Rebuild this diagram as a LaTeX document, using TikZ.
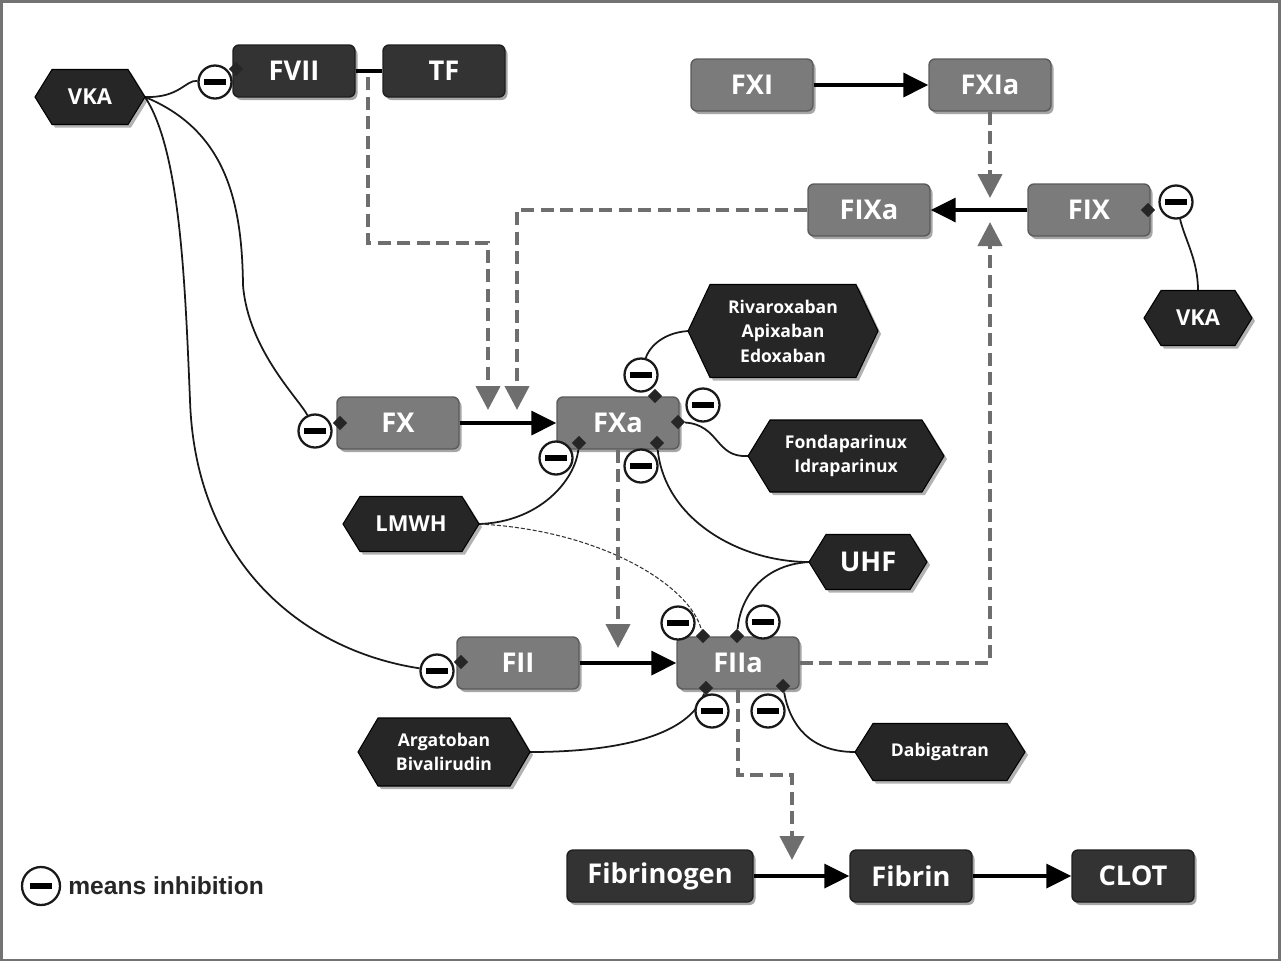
\documentclass[tikz,border=0pt]{standalone}
\usepackage{fontspec}
\newfontfamily\labfont{Open Sans}
\newfontfamily\legfont{Liberation Sans}
\usetikzlibrary{arrows.meta,shapes.geometric,shadows,backgrounds,calc}
\definecolor{boxgray}{HTML}{7B7B7B}
\definecolor{boxedge}{HTML}{5A5A5A}
\definecolor{darkbox}{HTML}{333333}
\definecolor{darkedge}{HTML}{1E1E1E}
\definecolor{hexcol}{HTML}{262626}
\definecolor{dashgray}{HTML}{6E6E6E}
\tikzset{
  box/.style={rectangle, rounded corners=1.2mm, minimum width=24.4mm, minimum height=10.4mm,
    inner sep=0, font=\labfont\bfseries\fontsize{15.5}{18}\selectfont, text=white, line width=0.8pt,
    drop shadow={shadow xshift=0.5mm, shadow yshift=-0.6mm, opacity=0.35, fill=black}},
  gbox/.style={box, fill=boxgray, draw=boxedge},
  dbox/.style={box, fill=darkbox, draw=darkedge},
  hexfill/.style={fill=hexcol, draw=black, line width=0.6pt},
  hexshadow/.style={fill=black, opacity=0.3},
  hextext/.style={rectangle, inner sep=0, outer sep=0, text=white, align=center},
  dia/.style={diamond, fill=black!85, inner sep=0, minimum size=2.9mm},
  inh/.style={circle, draw=black!90, line width=1.3pt, fill=white, minimum size=6.6mm, inner sep=0},
  inhline/.style={line width=1pt, black!90},
  inhdash/.style={line width=0.6pt, black!80, dash pattern=on 0.8mm off 0.4mm},
  sarrow/.style={line width=2pt, black, -{Triangle[length=5mm,width=4.8mm]}},
  darrow/.style={line width=2.4pt, dashgray, dash pattern=on 2.6mm off 1.3mm, -{Triangle[length=4.8mm,width=4.8mm]}},
  big/.style={font=\labfont\bfseries\fontsize{12.5}{15}\selectfont},
  small/.style={font=\labfont\bfseries\fontsize{10}{14}\selectfont},
  huge/.style={font=\labfont\bfseries\fontsize{15.5}{18}\selectfont}
}
\newcommand{\hexag}[8]{%
  \fill[hexshadow] ({#2-#4/2+3},{#3+3}) -- ({#2-#4/2+#6+3},{#3-#5/2+3}) -- ({#2+#4/2-#6+3},{#3-#5/2+3}) -- ({#2+#4/2+3},{#3+3}) -- ({#2+#4/2-#6+3},{#3+#5/2+3}) -- ({#2-#4/2+#6+3},{#3+#5/2+3}) -- cycle;
  \filldraw[hexfill] ({#2-#4/2},{#3}) -- ({#2-#4/2+#6},{#3-#5/2}) -- ({#2+#4/2-#6},{#3-#5/2}) -- ({#2+#4/2},{#3}) -- ({#2+#4/2-#6},{#3+#5/2}) -- ({#2-#4/2+#6},{#3+#5/2}) -- cycle;
  \node[hextext, #7, minimum width={#4*0.2mm}, minimum height={#5*0.2mm}] (#1) at (#2,#3) {#8};}
\newcommand{\minusbar}{\rule[-0.6mm]{4.5mm}{1.2mm}}
\begin{document}
\begin{tikzpicture}[x=0.2mm, y=-0.2mm]
\useasboundingbox (0,0) rectangle (1281,962);
\draw[black!55, line width=1.2pt] (1.5,1.5) rectangle (1279.5,960);

% boxes
\node[dbox] (fvii) at (294,71) {FVII};
\node[dbox] (tf) at (444,71) {TF};
\node[gbox] (fxi) at (752,85) {FXI};
\node[gbox] (fxia) at (990,85) {FXIa};
\node[gbox] (fixa) at (869,210) {FIXa};
\node[gbox] (fix) at (1089,210) {FIX};
\node[gbox] (fx) at (398,423) {FX};
\node[gbox] (fxa) at (618,423) {FXa};
\node[gbox] (fii) at (518,663) {FII};
\node[gbox] (fiia) at (738,663) {FIIa};
\node[dbox, minimum width=37.2mm] (fbg) at (660,876) {Fibrinogen};
\node[dbox] (fbn) at (911,876) {Fibrin};
\node[dbox] (clot) at (1133,876) {CLOT};

% hexagons
\hexag{vkaL}{90}{97}{110}{55}{17}{big}{VKA}
\hexag{vkaR}{1198}{318}{108}{55}{17}{big}{VKA}
\hexag{riva}{783}{331}{190}{93}{22}{small}{Rivaroxaban\\Apixaban\\Edoxaban}
\hexag{fonda}{846}{456}{196}{72}{22}{small}{Fondaparinux\\Idraparinux}
\hexag{lmwh}{411}{524}{136}{55}{17}{big}{LMWH}
\hexag{uhf}{868}{562}{118}{55}{17}{huge}{UHF}
\hexag{arga}{444}{752}{172}{68}{20}{small}{Argatoban\\Bivalirudin}
\hexag{dab}{940}{752}{170}{57}{18}{small}{Dabigatran}

% diamonds
\node[dia] (dfvii) at (236,69) {};
\node[dia] (dfx) at (340,423) {};
\node[dia] (dfxat) at (655,396) {};
\node[dia] (dfxar) at (678,422) {};
\node[dia] (dfxabl) at (579,443) {};
\node[dia] (dfxabr) at (657,443) {};
\node[dia] (dfii) at (461,662) {};
\node[dia] (dfiiatl) at (703,636) {};
\node[dia] (dfiiatr) at (737,636) {};
\node[dia] (dfiiabl) at (706,688) {};
\node[dia] (dfiiabr) at (783,686) {};
\node[dia] (dfix) at (1148,210) {};

% inhibition circles
\node[inh] (ifvii) at (215,82) {\minusbar};
\node[inh] (ifx) at (315,431) {\minusbar};
\node[inh] (ifxat) at (641,375) {\minusbar};
\node[inh] (ifxar) at (703,405) {\minusbar};
\node[inh] (ifxabl) at (556,458) {\minusbar};
\node[inh] (ifxabr) at (641,466) {\minusbar};
\node[inh] (ifii) at (437,671) {\minusbar};
\node[inh] (ifiiatl) at (678,623) {\minusbar};
\node[inh] (ifiiatr) at (763,622) {\minusbar};
\node[inh] (ifiiabl) at (712,711) {\minusbar};
\node[inh] (ifiiabr) at (768,711) {\minusbar};
\node[inh] (ifix) at (1176,202) {\minusbar};

% legend
\node[inh, minimum size=7.6mm] (ileg) at (41,886) {\minusbar};
\node[anchor=west, font=\legfont\bfseries\fontsize{14}{16}\selectfont, text=black!85, inner sep=0] (legtext) at (68,886) {means inhibition};

% solid connections
\draw[line width=2pt] (fvii) -- (tf);
\draw[sarrow] (fxi) -- (fxia);
\draw[sarrow] (fix) -- (fixa);
\draw[sarrow] (fx) -- (fxa);
\draw[sarrow] (fii) -- (fiia);
\draw[sarrow] (fbg) -- (fbn);
\draw[sarrow] (fbn) -- (clot);

% dashed connections
\coordinate (vtf) at (368,77);
\coordinate (tip1) at (488,410);
\coordinate (tip2) at (517,410);
\coordinate (tip3) at (990,198);
\coordinate (tip4) at (990,222);
\coordinate (tip5) at (618,648);
\coordinate (tip6) at (792,860);
\draw[darrow] (vtf) |- (tip1 |- 0,243) -- (tip1);
\draw[darrow] (fixa.west) -| (tip2);
\draw[darrow] (fxia.south) -- (tip3);
\draw[darrow] (fiia.east) -| (tip4);
\draw[darrow] (fxa.south -| tip5) -- (tip5);
\draw[darrow] (fiia.south) |- (tip6 |- 0,775) -- (tip6);

% inhibition connectors
\begin{scope}[on background layer]
\draw[inhline] (vkaL.east) .. controls (180,98) and (185,80) .. (ifvii);
\draw[inhline] (vkaL.east) .. controls (225,130) and (242,200) .. (243,285) .. controls (248,350) and (300,400) .. (ifx);
\draw[inhline] (vkaL.east) .. controls (180,150) and (185,280) .. (190,400) .. controls (195,560) and (300,650) .. (ifii);
\draw[inhline] (ifix) .. controls (1185,240) and (1198,260) .. (vkaR.north);
\draw[inhline] (riva.west) .. controls (660,333) and (648,350) .. (ifxat);
\draw[inhline] (dfxar) .. controls (720,425) and (715,458) .. (fonda.west);
\draw[inhline] (lmwh.east) .. controls (540,522) and (575,480) .. (dfxabl);
\draw[inhdash] (lmwh.east) .. controls (600,530) and (690,585) .. (dfiiatl);
\draw[inhline] (dfxabr) .. controls (665,520) and (740,562) .. (uhf.west);
\draw[inhline] (uhf.west) .. controls (760,565) and (740,600) .. (dfiiatr);
\draw[inhline] (arga.east) .. controls (620,752) and (690,735) .. (dfiiabl);
\draw[inhline] (dab.west) .. controls (810,752) and (790,725) .. (dfiiabr);
\end{scope}
\end{tikzpicture}
\end{document}
